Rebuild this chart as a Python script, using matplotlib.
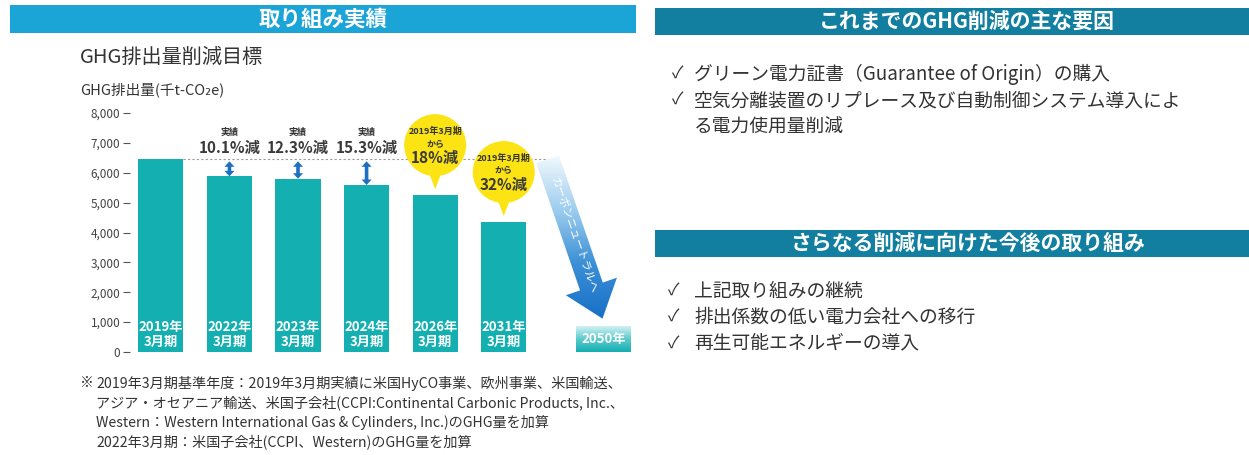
import numpy as np
import matplotlib
matplotlib.use('Agg')
import matplotlib.pyplot as plt
from matplotlib.patches import Rectangle, Polygon, Ellipse
from matplotlib.colors import LinearSegmentedColormap
from matplotlib.transforms import IdentityTransform

plt.rcParams['font.family'] = ['Noto Sans CJK JP', 'DejaVu Sans']

# data
periods = ['2019年\n3月期', '2022年\n3月期', '2023年\n3月期', '2024年\n3月期',
           '2026年\n3月期', '2031年\n3月期']
emissions = [6450, 5880, 5800, 5590, 5250, 4350]
actual_idx = [1, 2, 3]
actual_labels = ['10.1%減', '12.3%減', '15.3%減']
target_idx = [4, 5]
target_labels = ['18%減', '32%減']
goal_label = '2050年'
goal_pos = 6.46
y_ticks = np.arange(0, 8001, 1000)

factors_done = ['グリーン電力証書（Guarantee of Origin）の購入',
                '空気分離装置のリプレース及び自動制御システム導入によ\nる電力使用量削減']
factors_next = ['上記取り組みの継続', '排出係数の低い電力会社への移行', '再生可能エネルギーの導入']
footnote = ['2019年3月期基準年度：2019年3月期実績に米国HyCO事業、欧州事業、米国輸送、',
            'アジア・オセアニア輸送、米国子会社(CCPI:Continental Carbonic Products, Inc.、',
            'Western：Western International Gas & Cylinders, Inc.)のGHG量を加算',
            '2022年3月期：米国子会社(CCPI、Western)のGHG量を加算']

TEAL = '#14afb1'
YELLOW = '#fce414'
DARK = '#333333'
W, H = 1249, 455


def fx(x):
    return x / W


def fy(y):
    return 1 - y / H


fig = plt.figure(figsize=(W / 100, H / 100), dpi=100)
fig.patch.set_facecolor('white')

# banners
fig.add_artist(Rectangle((fx(10), fy(33)), fx(626), 28 / H, transform=fig.transFigure,
                         color='#1ba4d6', lw=0))
fig.text(fx(323), fy(19), '取り組み実績', color='white', fontsize=15.5, fontweight='bold',
         ha='center', va='center')
for y0, title in [(8, 'これまでのGHG削減の主な要因'), (230, 'さらなる削減に向けた今後の取り組み')]:
    fig.add_artist(Rectangle((fx(655), fy(y0 + 27)), fx(594), 27 / H, transform=fig.transFigure,
                             color='#137fa0', lw=0))
    fig.text(fx(967), fy(y0 + 13), title, color='white', fontsize=15, fontweight='bold',
             ha='center', va='center')

# checklists
y = 74
for item in factors_done:
    fig.text(fx(672), fy(y), '✓', fontsize=12, color=DARK, ha='left', va='center')
    for ln in item.split('\n'):
        fig.text(fx(694), fy(y), ln, fontsize=13.5, color=DARK, ha='left', va='center')
        y += 26.5
y = 291
for item in factors_next:
    fig.text(fx(668), fy(y), '✓', fontsize=12, color=DARK, ha='left', va='center')
    fig.text(fx(694), fy(y), item, fontsize=13.5, color=DARK, ha='left', va='center')
    y += 26.5

# titles of chart
fig.text(fx(80), fy(57), 'GHG排出量削減目標', fontsize=14.5, color=DARK, ha='left', va='center')
fig.text(fx(80), fy(90), 'GHG排出量(千t-CO₂e)', fontsize=10.5, color=DARK, ha='left', va='center')

# footnote
fig.text(fx(80), fy(383), '※', fontsize=10, color=DARK, ha='left', va='center')
for i, ln in enumerate(footnote):
    fig.text(fx(96), fy(383 + i * 19.5), ln, fontsize=10.2, color=DARK, ha='left', va='center')

# chart
ax = fig.add_axes([fx(130), fy(352), 515 / W, (352 - 113) / H])
xlim = (-0.45, 7.06)
ylim = (0, 8000)
ax.set_xlim(xlim)
ax.set_ylim(ylim)
for s in ax.spines.values():
    s.set_visible(False)
ax.set_xticks([])
ax.set_yticks(y_ticks)
ax.set_yticklabels([f'{v:,}' for v in y_ticks])
ax.tick_params(axis='y', length=5, width=0.8, color='#555555', pad=2, labelsize=8.5,
               labelcolor='#444444')

x = np.arange(len(emissions))
bar_w = 0.66
ax.bar(x, emissions, width=bar_w, color=TEAL, zorder=2)
for xi, lab in zip(x, periods):
    ax.text(xi, 590, lab, color='white', fontsize=9.5, fontweight='bold', ha='center',
            va='center', linespacing=1.15, zorder=4)

# pixel scales
p0 = ax.transData.transform((0, 0))
p1 = ax.transData.transform((1, 1000))
sx = p1[0] - p0[0]          # px per unit x
sy = (p1[1] - p0[1]) / 1000  # px per unit value

base = emissions[0]
arrow_x0 = 5.64

# baseline dotted line
ax.plot([bar_w / 2, arrow_x0], [base, base], ls=(0, (2, 2)), color='#9a9a9a', lw=0.8, zorder=1)


def double_arrow(xv, top, bottom, sw=1.8, hw=5, hl=5.5):
    # two-headed vertical arrow drawn in pixel space
    t = ax.transData.transform((xv, top)) - np.array([0, 2])
    b = ax.transData.transform((xv, bottom))
    cx = t[0]
    pts = [(cx, t[1]), (cx + hw, t[1] - hl), (cx + sw, t[1] - hl), (cx + sw, b[1] + hl),
           (cx + hw, b[1] + hl), (cx, b[1]), (cx - hw, b[1] + hl), (cx - sw, b[1] + hl),
           (cx - sw, t[1] - hl), (cx - hw, t[1] - hl)]
    ax.add_patch(Polygon(pts, closed=True, transform=IdentityTransform(), color='#1e6fc0',
                         lw=0, zorder=3))


# actual reductions
for i, lab in zip(actual_idx, actual_labels):
    double_arrow(i, base, emissions[i])
    ax.text(i, base + 27 / sy, '実績', fontsize=6.5, color=DARK, fontweight='bold',
            ha='center', va='center')
    ax.text(i, base + 11 / sy, lab, fontsize=11, color='#3a3a3a', fontweight='bold',
            ha='center', va='center')

# target bubbles
r = 31
for i, lab in zip(target_idx, target_labels):
    cy = emissions[i] + 50 / sy
    ax.add_patch(Ellipse((i, cy), 2 * r / sx, 2 * r / sy, color=YELLOW, lw=0, zorder=5,
                         clip_on=False))
    tip = emissions[i] + 6 / sy
    ax.add_patch(Polygon([(i - 8 / sx, cy - (r - 8) / sy), (i + 8 / sx, cy - (r - 8) / sy),
                          (i, tip)], closed=True, color=YELLOW, lw=0, zorder=5))
    ax.text(i, cy + 14 / sy, '2019年3月期', fontsize=6.5, color=DARK, fontweight='bold',
            ha='center', va='center', zorder=6)
    ax.text(i, cy + 1 / sy, 'から', fontsize=6.5, color=DARK, fontweight='bold',
            ha='center', va='center', zorder=6)
    ax.text(i, cy - 13 / sy, lab, fontsize=11, color='#3a3a3a', fontweight='bold',
            ha='center', va='center', zorder=6)

# 2050 box
box_h = 850
goal_cmap = LinearSegmentedColormap.from_list('g', ['#d2f1f2', '#5ccacc', TEAL])
grad = np.linspace(0, 1, 128).reshape(-1, 1)
ax.imshow(grad, cmap=goal_cmap, extent=[goal_pos - 0.4, goal_pos + 0.4, 0, box_h],
          aspect='auto', zorder=2)
ax.text(goal_pos, box_h / 2, goal_label, color='white', fontsize=9.5, fontweight='bold',
        ha='center', va='center', zorder=4)

# carbon neutral arrow (built in pixel space)
S = ax.transData.transform((arrow_x0, base))
E = ax.transData.transform((goal_pos - 0.02, box_h + 8 / sy))
d = E - S
u = d / np.hypot(*d)
n = np.array([-u[1], u[0]])
w, hw, hl = 12, 27, 34
B = E - u * hl
pts = [S + n * w, B + n * w, B + n * hw, E, B - n * hw, B - n * w, S - n * w]
arrow = Polygon(pts, closed=True, transform=IdentityTransform())
arrow_cmap = LinearSegmentedColormap.from_list('a', ['#f2f9fd', '#9ccdee', '#3b8fd6', '#1770c6'])
lo = ax.transData.inverted().transform((min(p[0] for p in pts), min(p[1] for p in pts)))
hi = ax.transData.inverted().transform((max(p[0] for p in pts), max(p[1] for p in pts)))
im = ax.imshow(grad, cmap=arrow_cmap, extent=[lo[0], hi[0], lo[1], hi[1]], aspect='auto',
               zorder=3)
im.set_clip_path(arrow)
ang = np.degrees(np.arctan2(d[1], d[0]))
mid = S + (B - S) * 0.6
mid_d = ax.transData.inverted().transform(mid)
ax.text(mid_d[0], mid_d[1], 'カーボンニュートラルへ', rotation=ang, rotation_mode='anchor',
        color='white', fontsize=8, ha='center', va='center', zorder=4)

ax.set_xlim(xlim)
ax.set_ylim(ylim)

fig.savefig('out.png', dpi=100)
